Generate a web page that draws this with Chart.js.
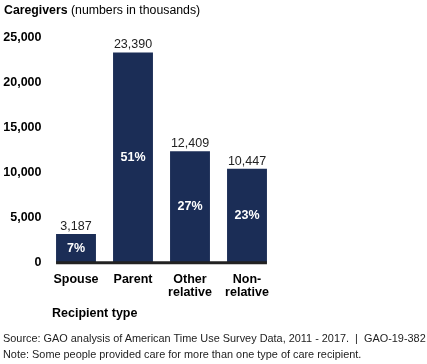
<!DOCTYPE html>
<html><head><meta charset="utf-8">
<script src="https://cdn.jsdelivr.net/npm/chart.js@4.4.1/dist/chart.umd.min.js"></script>
<style>
html,body{margin:0;padding:0;background:#fff;}
#wrap{position:relative;width:427px;height:364px;font-family:"Liberation Sans",Arial,sans-serif;}
canvas{position:absolute;left:0;top:0;}
.t{position:absolute;white-space:nowrap;color:#000;}
</style></head>
<body>
<div id="wrap">
<canvas id="c" width="427" height="364"></canvas>
<div class="t" style="left:4px;top:3px;font-size:12.3px;"><b>Caregivers</b> (numbers in thousands)</div>
<div class="t" style="left:52px;top:306px;font-size:12.5px;font-weight:bold;">Recipient type</div>
<div class="t" style="left:3px;top:332px;font-size:10.9px;color:#222;">Source: GAO analysis of American Time Use Survey Data, 2011 - 2017.&nbsp; |&nbsp; GAO-19-382</div>
<div class="t" style="left:3px;top:348px;font-size:10.9px;color:#222;">Note: Some people provided care for more than one type of care recipient.</div>
</div>
<script>
const categories = [["Spouse"], ["Parent"], ["Other", "relative"], ["Non-", "relative"]];
const caregivers = [3187, 23390, 12409, 10447];
const shares = ["7%", "51%", "27%", "23%"];
const yTicks = [0, 5000, 10000, 15000, 20000, 25000];

const barColor = "#1b2d56";
const font = '"Liberation Sans", Arial, sans-serif';

const labelPlugin = {
  id: "labels",
  afterDatasetsDraw(chart) {
    const ctx = chart.ctx;
    const meta = chart.getDatasetMeta(0);
    ctx.save();
    meta.data.forEach((bar, i) => {
      ctx.textAlign = "center";
      ctx.textBaseline = "alphabetic";
      ctx.fillStyle = "#222";
      ctx.font = "12.5px " + font;
      ctx.fillText(caregivers[i].toLocaleString("en-US"), bar.x, bar.y - 4);
      ctx.fillStyle = "#fff";
      ctx.font = "bold 12.5px " + font;
      ctx.textBaseline = "middle";
      ctx.fillText(shares[i], bar.x, (bar.y + bar.base) / 2);
    });
    const first = meta.data[0], last = meta.data[meta.data.length - 1];
    const y0 = chart.scales.y.getPixelForValue(0);
    ctx.strokeStyle = "#222";
    ctx.lineWidth = 3;
    ctx.beginPath();
    ctx.moveTo(first.x - first.width / 2, y0);
    ctx.lineTo(last.x + last.width / 2, y0);
    ctx.stroke();
    ctx.restore();
  }
};

new Chart(document.getElementById("c"), {
  type: "bar",
  data: {
    labels: categories,
    datasets: [{
      data: caregivers,
      backgroundColor: barColor,
      borderWidth: 0,
      categoryPercentage: 1,
      barPercentage: 0.70
    }]
  },
  options: {
    responsive: false,
    animation: false,
    devicePixelRatio: 1,
    layout: { padding: { top: 38, right: 151.5, bottom: 55, left: 0 } },
    plugins: { legend: { display: false }, tooltip: { enabled: false } },
    scales: {
      x: {
        offset: true,
        grid: { display: false, drawTicks: false },
        border: { display: false },
        ticks: { color: "#000", font: { family: font, size: 12.5, weight: "bold", lineHeight: 1.05 }, padding: 10, maxRotation: 0 }
      },
      y: {
        min: 0, max: 25000,
        afterFit(scale) { scale.width = 47.5; },
        afterBuildTicks(scale) { scale.ticks = yTicks.map(v => ({ value: v })); },
        grid: { display: false, drawTicks: false },
        border: { display: false },
        ticks: {
          color: "#000", padding: 6,
          font: { family: font, size: 12.5, weight: "bold" },
          callback: v => v.toLocaleString("en-US")
        }
      }
    }
  },
  plugins: [labelPlugin]
});
</script>
</body></html>
